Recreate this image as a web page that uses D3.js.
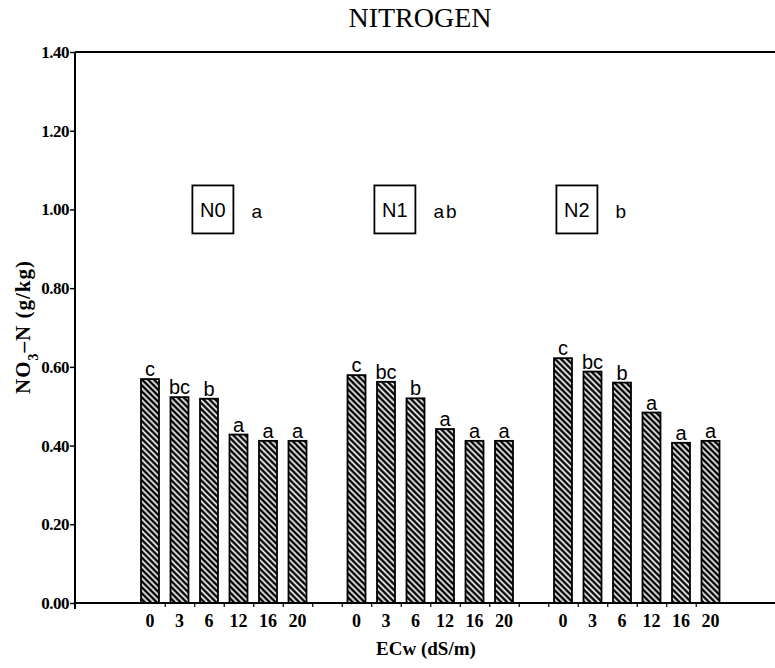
<!DOCTYPE html>
<html>
<head>
<meta charset="utf-8">
<script src="https://cdn.jsdelivr.net/npm/d3@7"></script>
<style>
  body { margin: 0; background: #fff; }
  svg { display: block; }
</style>
</head>
<body>
<svg id="chart" width="775" height="668"></svg>
<script>
// groups and their overall letters
const groups = ["N0", "N1", "N2"];
const groupLetters = ["a", "ab", "b"];

// ECw levels (dS/m)
const ecw = [0, 3, 6, 12, 16, 20];

// NO3-N values (g/kg)
const n0Values = [0.569, 0.523, 0.519, 0.428, 0.412, 0.412];
const n1Values = [0.579, 0.562, 0.520, 0.442, 0.412, 0.412];
const n2Values = [0.622, 0.588, 0.560, 0.484, 0.407, 0.412];

// letters above the bars
const n0Letters = ["c", "bc", "b", "a", "a", "a"];
const n1Letters = ["c", "bc", "b", "a", "a", "a"];
const n2Letters = ["c", "bc", "b", "a", "a", "a"];

const yTicks = [0, 0.2, 0.4, 0.6, 0.8, 1.0, 1.2, 1.4];

const allValues = [n0Values, n1Values, n2Values];
const allLetters = [n0Letters, n1Letters, n2Letters];

// flatten: each group takes 6 slots, one empty slot between groups
const slotsPerGroup = ecw.length + 1;
const nSlots = groups.length * slotsPerGroup - 1;
const data = [];
groups.forEach((g, gi) => {
  ecw.forEach((e, i) => {
    data.push({ group: g, ecw: e, value: allValues[gi][i], letter: allLetters[gi][i], slot: gi * slotsPerGroup + i });
  });
});

const svg = d3.select("#chart");
const plot = { left: 75, right: 775, top: 52, bottom: 603 };

// scales
const y = d3.scaleLinear().domain([0, 1.4]).range([plot.bottom, plot.top]);
const x = d3.scaleBand()
  .domain(d3.range(nSlots))
  .range([135.25, 725.25])
  .paddingInner(0.39)
  .paddingOuter(0.195);
const xEdge = d3.scaleLinear().domain([0, nSlots]).range([135.25, 725.25]);

// hatch pattern
const hs = 4.2;
const defs = svg.append("defs");
const pat = defs.append("pattern")
  .attr("id", "hatch")
  .attr("patternUnits", "userSpaceOnUse")
  .attr("width", hs)
  .attr("height", hs)
  .attr("patternTransform", "rotate(45)");
pat.append("rect").attr("width", hs).attr("height", hs).attr("fill", "#000");
pat.append("line")
  .attr("x1", 0).attr("x2", hs)
  .attr("y1", hs / 2).attr("y2", hs / 2)
  .attr("stroke", "#fff")
  .attr("stroke-width", 1.7);

const serif = "'Liberation Serif', 'DejaVu Serif', serif";
const sans = "'Liberation Sans', Arial, sans-serif";

// title
svg.append("text")
  .attr("x", 420).attr("y", 27)
  .attr("text-anchor", "middle")
  .style("font-family", serif)
  .style("font-size", "28px")
  .text("NITROGEN");

// bars
svg.append("g").selectAll("rect")
  .data(data)
  .enter().append("rect")
  .attr("x", d => x(d.slot))
  .attr("y", d => y(d.value))
  .attr("width", x.bandwidth())
  .attr("height", d => y(0) - y(d.value))
  .attr("fill", "url(#hatch)")
  .attr("stroke", "#000")
  .attr("stroke-width", 1.8);

// letters above bars
svg.append("g").selectAll("text")
  .data(data)
  .enter().append("text")
  .attr("x", d => x(d.slot) + x.bandwidth() / 2)
  .attr("y", d => y(d.value) - 3)
  .attr("text-anchor", "middle")
  .style("font-family", sans)
  .style("font-size", "20px")
  .text(d => d.letter);

// y axis
const yAxis = svg.append("g")
  .attr("transform", `translate(${plot.left},0)`)
  .call(d3.axisLeft(y).tickValues(yTicks).tickFormat(d3.format(".2f")).tickSize(5).tickPadding(1));
yAxis.select(".domain").attr("stroke-width", 2).attr("d", `M0,${plot.top}V${plot.bottom + 6}`);
yAxis.selectAll(".tick line").attr("stroke-width", 1.5);
yAxis.selectAll("text")
  .style("font-family", serif)
  .style("font-size", "17px")
  .style("font-weight", "bold")
  .attr("letter-spacing", "-0.5px");

// top frame line
svg.append("line")
  .attr("x1", plot.left).attr("x2", plot.right)
  .attr("y1", y(1.4)).attr("y2", y(1.4))
  .attr("stroke", "#000").attr("stroke-width", 2);

// x axis line with small ticks between slots
const xTicks = svg.append("g")
  .attr("transform", `translate(0,${plot.bottom})`)
  .call(d3.axisBottom(xEdge).tickValues(d3.range(1, nSlots)).tickSize(4).tickFormat(""));
xTicks.select(".domain").remove();
xTicks.selectAll(".tick line").attr("stroke-width", 1.2);
svg.append("line")
  .attr("x1", plot.left).attr("x2", plot.right)
  .attr("y1", y(0)).attr("y2", y(0))
  .attr("stroke", "#000").attr("stroke-width", 2);

// x tick labels
const xLabels = svg.append("g")
  .attr("transform", `translate(0,${plot.bottom})`)
  .call(d3.axisBottom(x)
    .tickValues(data.map(d => d.slot))
    .tickFormat(s => data.find(d => d.slot === s).ecw)
    .tickSize(0)
    .tickPadding(11));
xLabels.select(".domain").remove();
xLabels.selectAll("text")
  .style("font-family", serif)
  .style("font-size", "18px")
  .style("font-weight", "bold");

// group boxes
const boxW = 41, boxH = 48;
const boxG = svg.append("g").selectAll("g")
  .data(groups)
  .enter().append("g")
  .attr("transform", (d, i) => {
    const cx = plot.left + (plot.right - plot.left) * (0.197 + 0.26 * i);
    return `translate(${cx},${y(1.0)})`;
  });
boxG.append("rect")
  .attr("x", -boxW / 2).attr("y", -boxH / 2)
  .attr("width", boxW).attr("height", boxH)
  .attr("fill", "none").attr("stroke", "#000").attr("stroke-width", 1.8);
boxG.append("text")
  .attr("text-anchor", "middle")
  .attr("dy", "0.36em")
  .style("font-family", sans)
  .style("font-size", "20px")
  .text(d => d);
boxG.append("text")
  .attr("x", boxW / 2 + 18)
  .attr("dy", "0.45em")
  .style("font-family", sans)
  .style("font-size", "19px")
  .attr("letter-spacing", "2px")
  .text((d, i) => groupLetters[i]);

// axis titles
svg.append("text")
  .attr("x", 426).attr("y", 655)
  .attr("text-anchor", "middle")
  .style("font-family", serif)
  .style("font-size", "19px")
  .style("font-weight", "bold")
  .text("ECw (dS/m)");

const yTitle = svg.append("text")
  .attr("transform", "translate(30,327) rotate(-90)")
  .attr("text-anchor", "middle")
  .attr("letter-spacing", "1px")
  .style("font-family", serif)
  .style("font-size", "21px")
  .style("font-weight", "bold");
yTitle.append("tspan").text("NO");
yTitle.append("tspan").attr("baseline-shift", "sub").style("font-size", "14px").text("3");
yTitle.append("tspan").text("\u2013N (g/kg)");
</script>
</body>
</html>
